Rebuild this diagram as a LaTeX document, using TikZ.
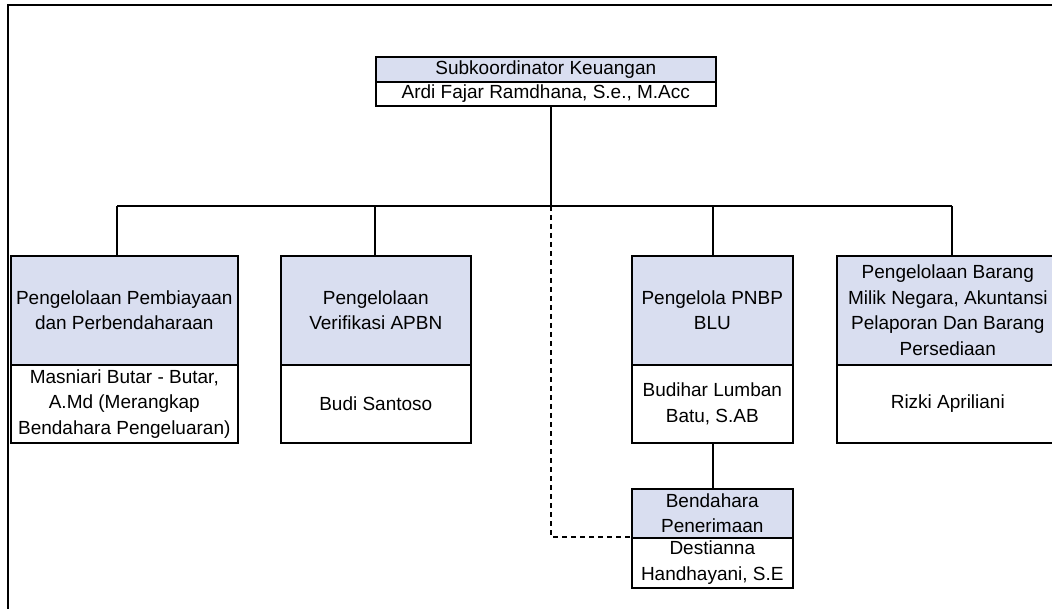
\documentclass[tikz,border=0pt]{standalone}
\usepackage{fontspec}
\setmainfont{Liberation Sans}
\definecolor{hdrfill}{RGB}{217,222,240}
\newcommand{\fsz}{\fontsize{19}{25.5}\selectfont}
\tikzset{
  hdr/.style={draw=black, line width=1.6pt, fill=hdrfill, anchor=north west, inner sep=0pt, align=center, font=\fsz},
  nm/.style={draw=black, line width=1.6pt, fill=white, anchor=north west, inner sep=0pt, align=center, font=\fsz},
  conn/.style={line width=2pt},
  dashconn/.style={line width=1.5pt, dash pattern=on 5pt off 4pt},
  frameline/.style={line width=2.2pt}
}
\begin{document}
\begin{tikzpicture}[x=1pt,y=-1pt]
\useasboundingbox (0,0) rectangle (1052,609);
\draw[frameline] (8,612) -- (8,4.7) -- (1056,4.7);

% nodes
\node[hdr, minimum width=340, minimum height=25] (toph) at (375,56) {Subkoordinator Keuangan};
\node[nm, minimum width=340, minimum height=24] (topn) at (375,81) {Ardi Fajar Ramdhana, S.e., M.Acc};

\node[hdr, minimum width=227, minimum height=109] (b1h) at (10,255) {Pengelolaan Pembiayaan\\dan Perbendaharaan};
\node[nm, minimum width=227, minimum height=78] (b1n) at (10,364) {Masniari Butar - Butar,\\A.Md (Merangkap\\Bendahara Pengeluaran)};

\node[hdr, minimum width=190, minimum height=109] (b2h) at (280,255) {Pengelolaan\\Verifikasi APBN};
\node[nm, minimum width=190, minimum height=78] (b2n) at (280,364) {Budi Santoso};

\node[hdr, minimum width=161, minimum height=109] (b3h) at (631,255) {Pengelola PNBP\\BLU};
\node[nm, minimum width=161, minimum height=78] (b3n) at (631,364) {Budihar Lumban\\Batu, S.AB};

\node[hdr, minimum width=222, minimum height=109] (b4h) at (836,255) {Pengelolaan Barang\\Milik Negara, Akuntansi\\Pelaporan Dan Barang\\Persediaan};
\node[nm, minimum width=222, minimum height=78] (b4n) at (836,364) {Rizki Apriliani};

\node[hdr, minimum width=161, minimum height=49] (b5h) at (631,488) {Bendahara\\Penerimaan};
\node[nm, minimum width=161, minimum height=50] (b5n) at (631,537) {Destianna\\Handhayani, S.E};

% connectors
\coordinate (hub) at (551,206);
\coordinate (d1) at (117,206);
\coordinate (d2) at (375,206);
\coordinate (d3) at (713,206);
\coordinate (d4) at (952,206);

\draw[conn] (topn.south -| hub) -- (hub);
\draw[conn] (d1) -- (d4);
\draw[conn] (d1) -- (d1 |- b1h.north);
\draw[conn] (d2) -- (d2 |- b2h.north);
\draw[conn] (d3) -- (d3 |- b3h.north);
\draw[conn] (d4) -- (d4 |- b4h.north);
\draw[conn] (b3n.south -| d3) -- (b5h.north -| d3);
\draw[dashconn] (hub) -- (hub |- b5n.north) -- (b5n.north west);
\end{tikzpicture}
\end{document}
